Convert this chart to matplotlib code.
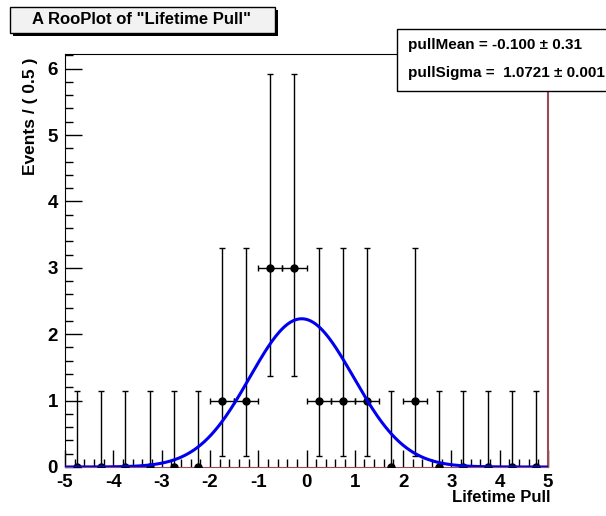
import matplotlib
matplotlib.use('Agg')
import matplotlib.pyplot as plt
from matplotlib.patches import Rectangle
from matplotlib.ticker import MultipleLocator
import numpy as np

plt.rcParams['font.family'] = ['Liberation Sans', 'DejaVu Sans']
plt.rcParams['font.weight'] = 'bold'
plt.rcParams['axes.unicode_minus'] = False

# binned data, bin width 0.5
bin_centers = [-4.75, -4.25, -3.75, -3.25, -2.75, -2.25, -1.75, -1.25, -0.75, -0.25,
               0.25, 0.75, 1.25, 1.75, 2.25, 2.75, 3.25, 3.75, 4.25, 4.75]
counts = [0, 0, 0, 0, 0, 0, 1, 1, 3, 3, 1, 1, 1, 0, 1, 0, 0, 0, 0, 0]
err_lo = [0, 0, 0, 0, 0, 0, 0.83, 0.83, 1.63, 1.63, 0.83, 0.83, 0.83, 0, 0.83, 0, 0, 0, 0, 0]
err_hi = [1.15, 1.15, 1.15, 1.15, 1.15, 1.15, 2.30, 2.30, 2.92, 2.92,
          2.30, 2.30, 2.30, 1.15, 2.30, 1.15, 1.15, 1.15, 1.15, 1.15]
x_err = [0, 0, 0, 0, 0, 0, 0.25, 0.25, 0.25, 0.25, 0.25, 0.25, 0.25, 0, 0.25, 0, 0, 0, 0, 0]

# fit result
pull_mean = -0.100
pull_sigma = 1.0721
n_events = 12
bin_width = 0.5

fig = plt.figure(figsize=(6.06, 5.16), dpi=100)
ax = fig.add_axes([0.1073, 0.095, 0.797, 0.8003])

ax.errorbar(bin_centers, counts, yerr=[err_lo, err_hi], xerr=x_err, fmt='o', color='black',
            ms=5, lw=1, capsize=2, capthick=1, zorder=3)

xs = np.linspace(-5, 5, 400)
curve = n_events * bin_width / (np.sqrt(2 * np.pi) * pull_sigma) * np.exp(-0.5 * ((xs - pull_mean) / pull_sigma) ** 2)
ax.plot(xs, curve, color='#0000ee', lw=2.2, zorder=4)

ax.set_xlim(-5, 5)
ax.set_ylim(0, 6.22)
ax.xaxis.set_major_locator(MultipleLocator(1))
ax.xaxis.set_minor_locator(MultipleLocator(0.2))
ax.yaxis.set_major_locator(MultipleLocator(1))
ax.yaxis.set_minor_locator(MultipleLocator(0.2))
ax.tick_params(which='both', direction='in', top=False, right=False, labelsize=13.5, width=1)
ax.tick_params(which='major', length=12)
ax.tick_params(which='minor', length=6)
ax.tick_params(axis='x', which='major', pad=5)
ax.tick_params(axis='y', which='major', pad=5)
for lab in ax.get_xticklabels() + ax.get_yticklabels():
    lab.set_fontweight('bold')

ax.spines['left'].set_color('black')
ax.spines['top'].set_color('black')
ax.spines['right'].set_color('#9c4a55')
ax.spines['bottom'].set_color('#9c4a55')
ax.spines['right'].set_linewidth(1.5)

fig.text(550 / 606, 1 - 497 / 516, 'Lifetime Pull', ha='right', va='center', fontsize=12, fontweight='bold')
fig.text(30 / 606, 1 - 58 / 516, 'Events / ( 0.5 )', ha='center', va='top', rotation=90,
         fontsize=12.5, fontweight='bold')

# title box with shadow
fig.patches.append(Rectangle((13 / 606, 1 - 36 / 516), 265 / 606, 26 / 516, transform=fig.transFigure,
                             facecolor='black', edgecolor='none', zorder=5))
fig.patches.append(Rectangle((10 / 606, 1 - 33 / 516), 265 / 606, 26 / 516, transform=fig.transFigure,
                             facecolor='#f2f2f2', edgecolor='black', lw=1, zorder=6))
fig.text(142 / 606, 1 - 20 / 516, 'A RooPlot of "Lifetime Pull"', ha='center', va='center',
         fontsize=12, fontweight='bold', zorder=7)

# stats box
fig.patches.append(Rectangle((397 / 606, 1 - 91 / 516), 230 / 606, 62 / 516, transform=fig.transFigure,
                             facecolor='white', edgecolor='black', lw=1, zorder=5))
fig.text(408 / 606, 1 - 45 / 516, 'pullMean = -0.100 \u00b1 0.31', ha='left', va='center',
         fontsize=11, fontweight='bold', zorder=7)
fig.text(408 / 606, 1 - 73 / 516, 'pullSigma =  1.0721 \u00b1 0.001', ha='left', va='center',
         fontsize=11, fontweight='bold', zorder=7)

fig.savefig('out.png', dpi=100)
